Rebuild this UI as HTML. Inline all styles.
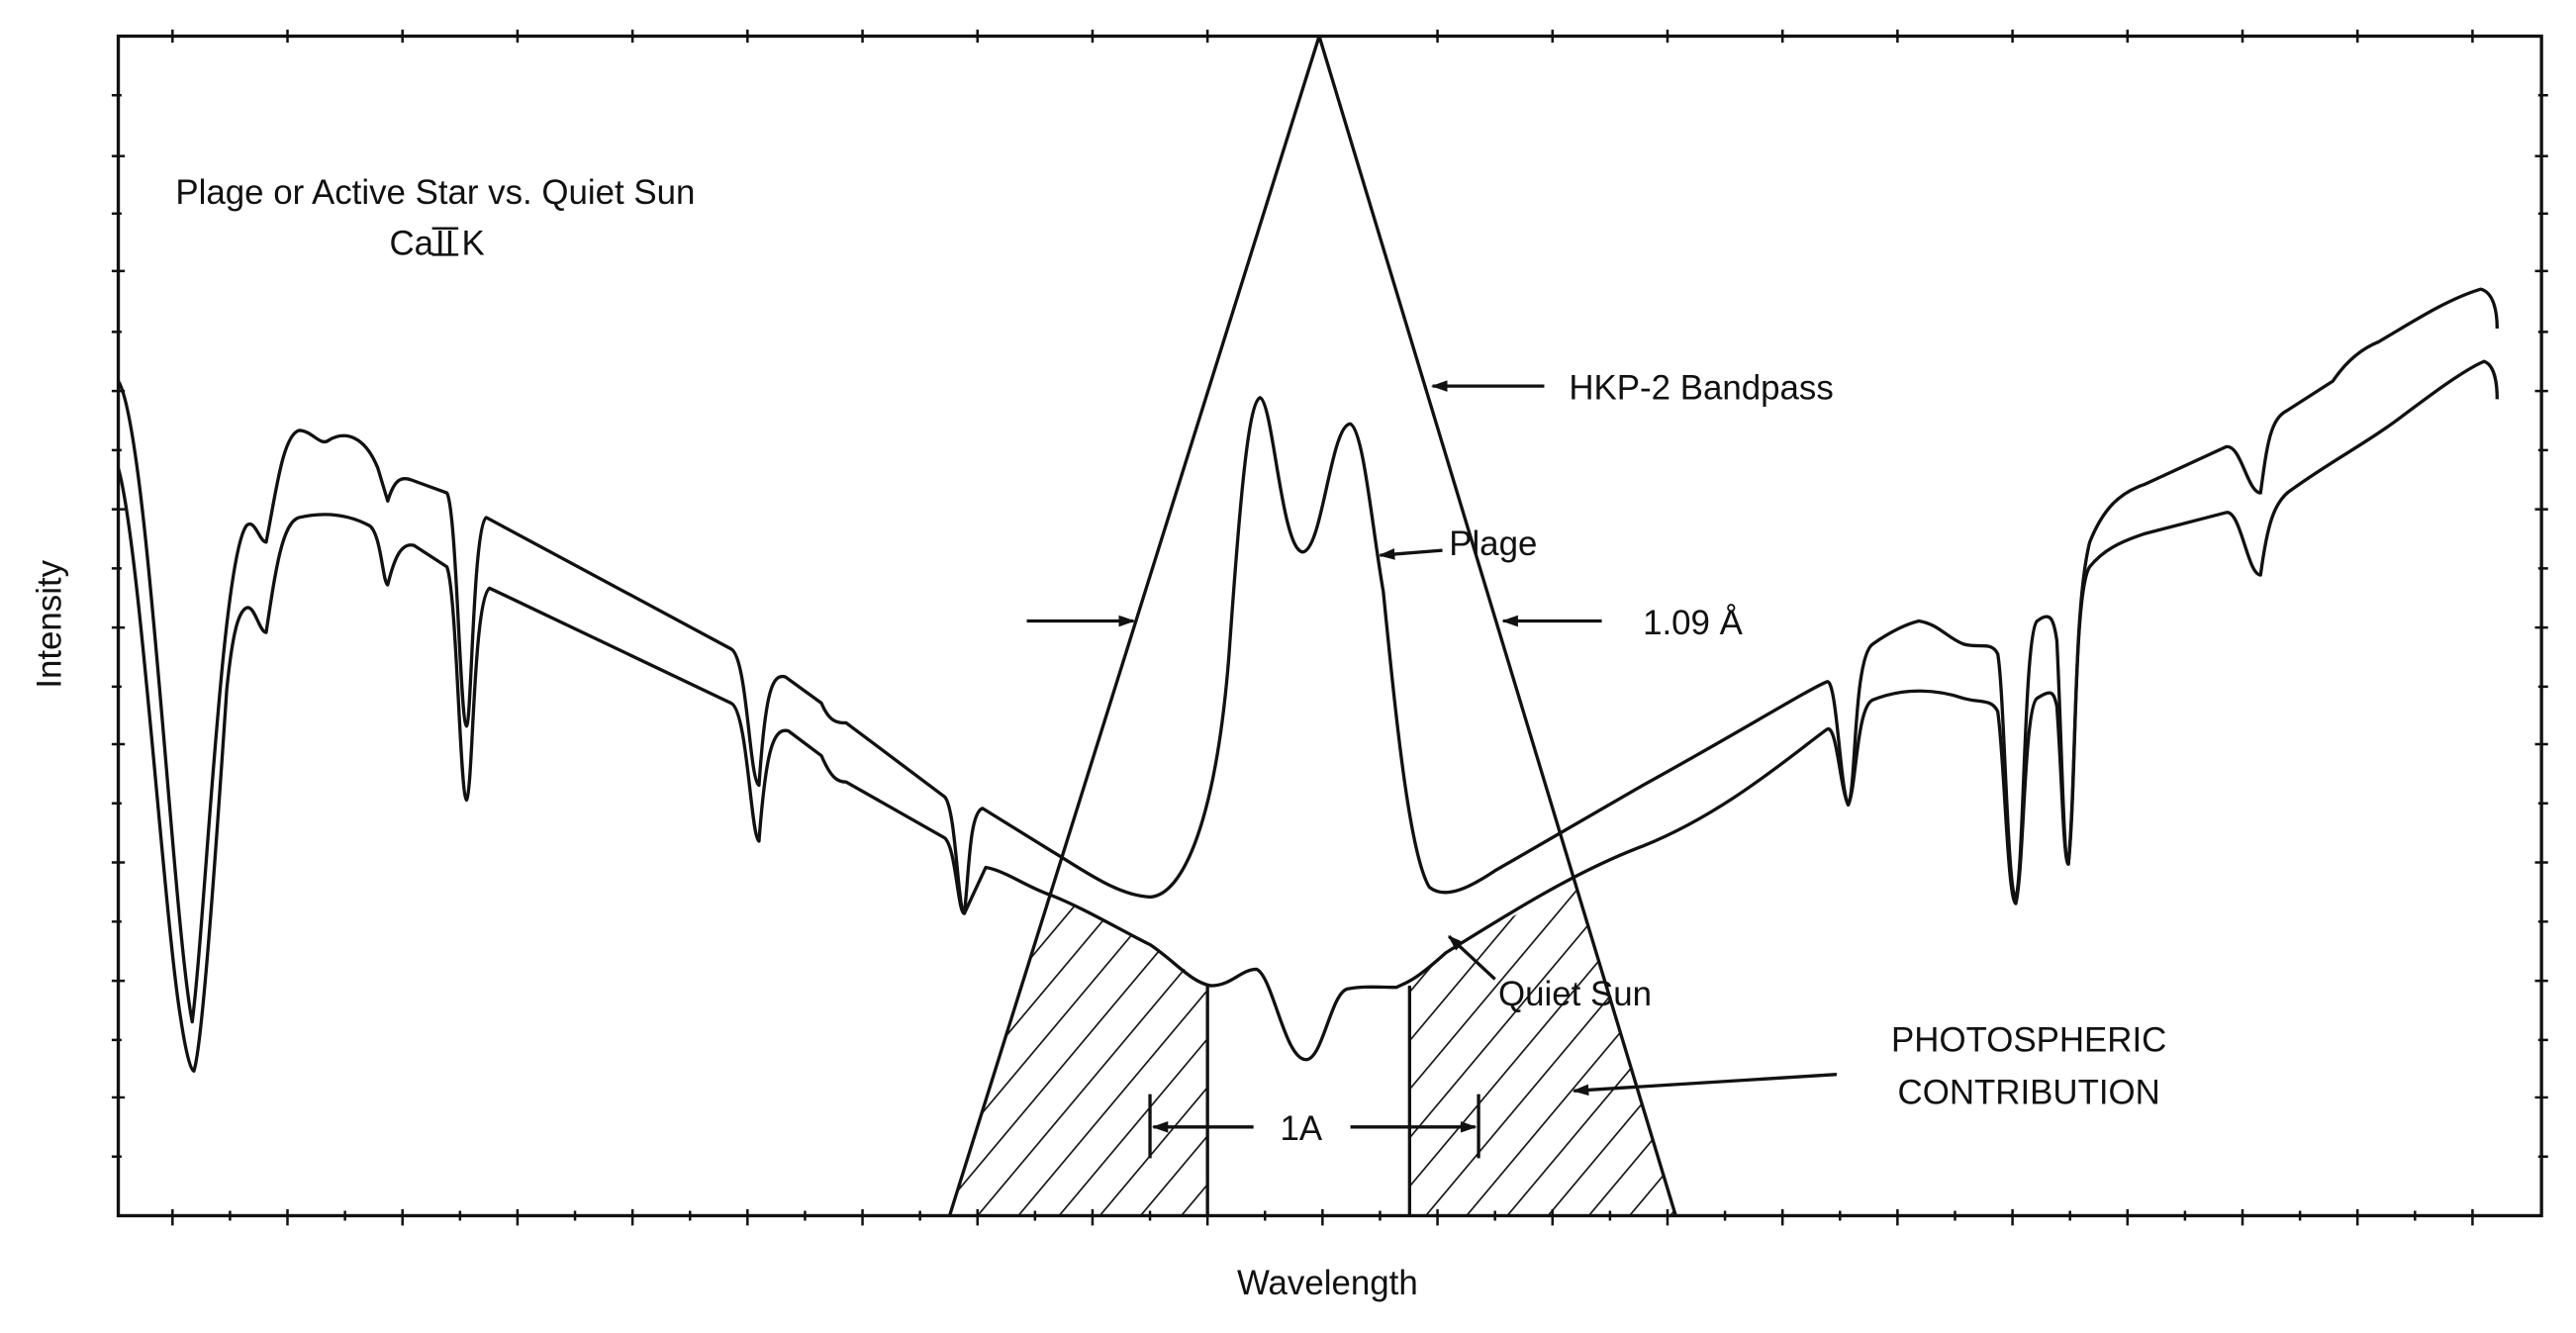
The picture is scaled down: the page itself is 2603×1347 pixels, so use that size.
<!DOCTYPE html>
<html><head><meta charset="utf-8"><style>
html,body{margin:0;padding:0;background:#fff}
svg{display:block}
text{font-family:"Liberation Sans",sans-serif;fill:#111}
</style></head><body>
<svg width="2603" height="1347" viewBox="0 0 1568 811.4" xmlns="http://www.w3.org/2000/svg">
<defs>
<pattern id="h" width="19" height="19" patternUnits="userSpaceOnUse" patternTransform="rotate(40)">
<line x1="0" y1="0" x2="0" y2="19" stroke="#111" stroke-width="2"/>
</pattern>
<clipPath id="tri"><polygon points="803,22 578,740 1020,740"/></clipPath>
<marker id="a" markerWidth="10" markerHeight="8" refX="9" refY="4" orient="auto" markerUnits="userSpaceOnUse"><path d="M0,0.5 L10,4 L0,7.5 z" fill="#111"/></marker>
</defs>
<g fill="none" stroke="#111" stroke-width="2">
<rect x="72" y="22" width="1475" height="718"/>
</g>
<g stroke="#111" stroke-width="1.5">
<path d="M68,95h8M68,165h8M68,238h8M68,310h8M68,382h8M68,453h8M68,525h8M68,597h8M68,668h8M68,58h6M68,130h6M68,202h6M68,274h6M68,346h6M68,418h6M68,489h6M68,561h6M68,633h6M68,704h6"/>
<path d="M1543,95h8M1543,165h8M1543,238h8M1543,310h8M1543,382h8M1543,453h8M1543,525h8M1543,597h8M1543,668h8M1545,58h6M1545,130h6M1545,202h6M1545,274h6M1545,346h6M1545,418h6M1545,489h6M1545,561h6M1545,633h6M1545,704h6"/>
<path d="M105,736v10M140,737v6M175,736v10M210,737v6M245,736v10M280,737v6M315,736v10M350,737v6M385,736v10M420,737v6M455,736v10M490,737v6M525,736v10M560,737v6M595,736v10M630,737v6M665,736v10M700,737v6M735,736v10M770,737v6M805,736v10M840,737v6M875,736v10M910,737v6M945,736v10M980,737v6M1015,736v10M1050,737v6M1085,736v10M1120,737v6M1155,736v10M1190,737v6M1225,736v10M1260,737v6M1295,736v10M1330,737v6M1365,736v10M1400,737v6M1435,736v10M1470,737v6M1505,736v10"/>
<path d="M105,18v8M175,18v8M245,18v8M315,18v8M385,18v8M455,18v8M525,18v8M595,18v8M665,18v8M735,18v8M875,18v8M945,18v8M1015,18v8M1085,18v8M1155,18v8M1225,18v8M1295,18v8M1365,18v8M1435,18v8M1505,18v8"/>
</g>
<g clip-path="url(#tri)">
<path d="M560,545 L600,555 L640,545 L660,555 L700,575 L735,600 L735,740 L560,740 Z" fill="url(#h)"/>
<path d="M858,600 L880,580 L1000,515 L1040,505 L1040,740 L858,740 Z" fill="url(#h)"/>
</g>
<g fill="none" stroke="#111" stroke-width="2" stroke-linejoin="round">
<polyline points="578,740 803,22 1020,740"/>
<line x1="735" y1="600" x2="735" y2="740"/>
<line x1="858" y1="600" x2="858" y2="740"/>
<path d="M72,232 C90,260 105,560 117,622 C125,560 135,340 150,320 C155,315 158,330 162,330 C168,300 172,265 182,262 C190,262 195,272 200,268 C210,262 222,265 230,285 L236,305 C240,292 244,290 250,292 L272,300 C278,310 280,440 284,442 C287,440 288,320 296,315 L445,395 C455,400 456,475 462,478 C466,420 470,410 478,412 L500,428 C505,440 510,440 515,440 L575,485 C582,492 583,555 587,556 C590,530 590,495 598,492 L640,518 C660,530 680,545 700,546 C720,545 740,500 748,400 C755,300 760,245 767,242 C775,245 780,335 793,336 C805,335 810,258 822,258 C830,262 835,320 842,360 C850,440 858,520 870,540 C880,548 895,540 910,530 L1000,478 C1060,445 1100,420 1112,415 C1118,412 1120,480 1125,490 C1130,480 1128,400 1140,392 C1150,385 1160,380 1168,378 C1180,380 1185,388 1195,392 C1205,395 1212,390 1216,398 C1220,420 1222,545 1227,547 C1232,530 1232,385 1240,378 C1248,372 1250,376 1252,390 C1255,450 1256,525 1259,526 C1264,470 1262,370 1272,330 C1280,310 1290,300 1305,295 L1355,272 C1364,270 1368,300 1376,300 C1380,270 1382,255 1392,250 L1420,232 C1428,220 1438,212 1448,208 C1470,195 1490,182 1510,176 C1518,178 1520,190 1520,200"/>
<path d="M72,285 C85,330 100,560 110,620 C113,640 116,652 118,652 C122,640 128,570 138,420 C142,380 146,372 150,370 C155,368 158,385 162,385 C168,345 172,318 182,315 C195,312 210,312 225,320 C232,325 233,355 236,356 C240,340 244,330 252,332 L272,345 C278,360 280,485 284,487 C288,480 288,365 298,358 L445,428 C455,432 457,510 462,512 C466,460 470,442 480,445 L500,460 C506,474 510,476 515,476 L575,510 C582,516 583,556 587,556 L600,528 C612,530 625,540 640,545 C660,553 680,565 700,575 C715,585 725,598 737,600 C750,600 755,590 765,590 C775,595 782,645 795,645 C805,645 810,605 820,602 C830,600 840,601 850,601 C856,598 860,598 880,580 C920,555 960,530 1000,515 C1050,495 1090,460 1112,444 C1118,440 1120,480 1125,490 C1130,480 1130,430 1140,426 C1160,418 1180,420 1195,425 C1205,428 1212,425 1216,433 C1220,460 1222,548 1227,550 C1232,530 1232,430 1240,425 C1248,420 1250,420 1252,430 C1255,470 1256,525 1259,526 C1264,480 1262,360 1272,345 C1280,335 1290,330 1305,325 L1355,312 C1364,310 1368,350 1376,350 C1380,320 1384,305 1395,298 C1420,280 1440,270 1460,255 C1480,240 1500,225 1512,220 C1518,222 1520,232 1520,243"/>
</g>
<g stroke="#111" stroke-width="2" fill="none">
<line x1="940" y1="235" x2="872" y2="235" marker-end="url(#a)"/>
<line x1="878" y1="335" x2="840" y2="338" marker-end="url(#a)"/>
<line x1="625" y1="378" x2="690" y2="378" marker-end="url(#a)"/>
<line x1="975" y1="378" x2="915" y2="378" marker-end="url(#a)"/>
<line x1="910" y1="596" x2="882" y2="570" marker-end="url(#a)"/>
<line x1="1118" y1="654" x2="958" y2="664" marker-end="url(#a)"/>
<line x1="700" y1="666" x2="700" y2="705"/>
<line x1="900" y1="666" x2="900" y2="705"/>
<line x1="763" y1="686" x2="702" y2="686" marker-end="url(#a)"/>
<line x1="822" y1="686" x2="898" y2="686" marker-end="url(#a)"/>
<line x1="263" y1="139" x2="279" y2="139" stroke-width="1.5"/>
<line x1="263" y1="155" x2="279" y2="155" stroke-width="1.5"/>
</g>
<g font-size="21">
<text x="265" y="124" text-anchor="middle">Plage or Active Star vs. Quiet Sun</text>
<text x="237" y="155">Ca</text>
<text x="265" y="155" font-family="Liberation Serif">II</text>
<text x="281" y="155">K</text>
<text x="955" y="243">HKP-2 Bandpass</text>
<text x="882" y="338">Plage</text>
<text x="1000" y="386">1.09 Å</text>
<text x="912" y="612">Quiet Sun</text>
<text x="1235" y="640" text-anchor="middle">PHOTOSPHERIC</text>
<text x="1235" y="672" text-anchor="middle">CONTRIBUTION</text>
<text x="792" y="694" text-anchor="middle">1A</text>
<text x="808" y="788" text-anchor="middle">Wavelength</text>
<text x="0" y="0" transform="translate(37,380) rotate(-90)" text-anchor="middle">Intensity</text>
</g>
</svg>
</body></html>
